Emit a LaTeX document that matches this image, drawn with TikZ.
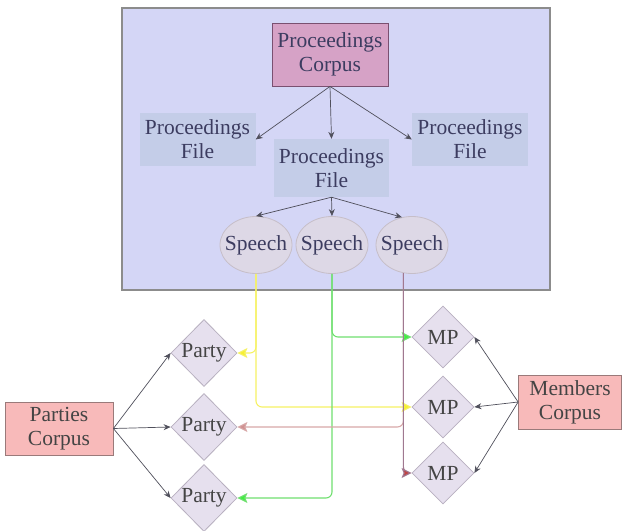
\documentclass[tikz,border=0pt]{standalone}
\usepackage{fontspec}
\setmainfont{Liberation Serif}
\usetikzlibrary{shapes.geometric,arrows.meta}
\definecolor{bgfill}{HTML}{D4D6F6}
\definecolor{bgdraw}{HTML}{8C8C8C}
\definecolor{corpfill}{HTML}{D6A2C6}
\definecolor{corpdraw}{HTML}{7A5070}
\definecolor{pffill}{HTML}{C4CDE8}
\definecolor{spfill}{HTML}{DDD8E6}
\definecolor{spdraw}{HTML}{C6BEC8}
\definecolor{dmfill}{HTML}{E6E0EE}
\definecolor{dmdraw}{HTML}{B8B0C0}
\definecolor{pinkfill}{HTML}{F8BABA}
\definecolor{pinkdraw}{HTML}{9A7A7A}
\definecolor{toptext}{HTML}{3C3C60}
\definecolor{bottext}{HTML}{444444}
\definecolor{arr}{HTML}{50505C}
\definecolor{yel}{HTML}{F6F264}
\definecolor{yeltip}{HTML}{F6F030}
\definecolor{grn}{HTML}{70E070}
\definecolor{grntip}{HTML}{40EE40}
\definecolor{pur}{HTML}{A07890}
\definecolor{rose}{HTML}{D8A8A8}
\definecolor{rosetip}{HTML}{D09090}
\definecolor{redtip}{HTML}{C04444}
\tikzset{
  txt/.style={font=\fontsize{21.5bp}{24bp}\selectfont, align=center, inner sep=0pt},
  corpbox/.style={txt, rectangle, fill=corpfill, draw=corpdraw, line width=0.8bp, text=toptext},
  pfbox/.style={txt, rectangle, fill=pffill, text=toptext, minimum width=116bp},
  speechnode/.style={txt, ellipse, fill=spfill, draw=spdraw, line width=0.8bp, text=toptext, minimum width=72bp, minimum height=57bp},
  dmnode/.style={txt, diamond, fill=dmfill, draw=dmdraw, line width=0.8bp, text=bottext},
  pinkbox/.style={txt, rectangle, fill=pinkfill, draw=pinkdraw, line width=0.8bp, text=bottext},
  darrow/.style={draw=arr, line width=0.7bp, -{Stealth[length=7bp,width=6bp]}},
  cline/.style={line width=1.1bp, rounded corners=6bp},
}
\begin{document}
\begin{tikzpicture}[x=1bp,y=-1bp]
\useasboundingbox (0,0) rectangle (622,531);
\fill[white] (0,0) rectangle (622,531);
\node[draw=bgdraw, fill=bgfill, line width=2bp, minimum width=428bp, minimum height=282bp, inner sep=0pt] (frame) at (336,149) {};

\node[corpbox, minimum width=116bp, minimum height=63bp] (pc) at (330,54.5) {Proceedings\\Corpus};
\node[pfbox, minimum height=53bp] (pf1) at (197.5,139.5) {Proceedings\\File};
\node[pfbox, minimum height=58bp, minimum width=115bp] (pf2) at (331.5,168) {Proceedings\\File};
\node[pfbox, minimum height=53bp] (pf3) at (470,139.5) {Proceedings\\File};

\node[speechnode] (sp1) at (256,245) {\makebox[0pt]{Speech}};
\node[speechnode] (sp2) at (332,245) {\makebox[0pt]{Speech}};
\node[speechnode] (sp3) at (412,245) {\makebox[0pt]{Speech}};

\node[dmnode, minimum width=66bp, minimum height=67bp] (pa1) at (204,353) {Party};
\node[dmnode, minimum width=66bp, minimum height=67bp] (pa2) at (204,427) {Party};
\node[dmnode, minimum width=66bp, minimum height=67bp] (pa3) at (204,498) {Party};

\node[dmnode, minimum width=62bp, minimum height=62bp] (mp1) at (443,337) {MP};
\node[dmnode, minimum width=62bp, minimum height=62bp] (mp2) at (443,407) {MP};
\node[dmnode, minimum width=62bp, minimum height=62bp] (mp3) at (443,473) {MP};

\node[pinkbox, minimum width=108bp, minimum height=53bp] (pcorp) at (59,428.5) {Parties\\Corpus};
\node[pinkbox, minimum width=103bp, minimum height=54bp] (mcorp) at (570,402) {Members\\Corpus};

% top arrows
\draw[darrow] (pc.south) -- (pf1.east);
\draw[darrow] (pc.south) -- (pf2.north);
\draw[darrow] (pc.south) -- (pf3.west);
\draw[darrow] (pf2.south) -- (sp1.north);
\draw[darrow] (pf2.south) -- (sp2.north);
\draw[darrow] (pf2.south) -- (sp3.110);

% corpus arrows
\draw[darrow] (pcorp.east) -- (pa1.west);
\draw[darrow] (pcorp.east) -- (pa2.west);
\draw[darrow] (pcorp.east) -- (pa3.west);
\draw[darrow] (mcorp.west) -- (mp1.east);
\draw[darrow] (mcorp.west) -- (mp2.east);
\draw[darrow] (mcorp.west) -- (mp3.east);

% coloured links
\draw[cline, draw=yel, -{Stealth[length=10bp,width=10bp,inset=2bp,fill=yeltip]}] (sp1.south) |- (pa1.east);
\draw[cline, draw=yel, -{Stealth[length=10bp,width=10bp,inset=2bp,fill=yeltip]}] (sp1.south) |- (mp2.west);
\draw[cline, draw=grn, -{Stealth[length=10bp,width=10bp,inset=2bp,fill=grntip]}] (sp2.south) |- (mp1.west);
\draw[cline, draw=grn, -{Stealth[length=10bp,width=10bp,inset=2bp,fill=grntip]}] (sp2.south) |- (pa3.east);
\draw[cline, draw=rose, -{Stealth[length=10bp,width=10bp,inset=2bp,fill=rosetip]}] (sp3.253) |- (pa2.east);
\draw[cline, draw=pur, -{Stealth[length=10bp,width=10bp,inset=2bp,fill=redtip]}] (sp3.253) |- (mp3.west);
\end{tikzpicture}
\end{document}
